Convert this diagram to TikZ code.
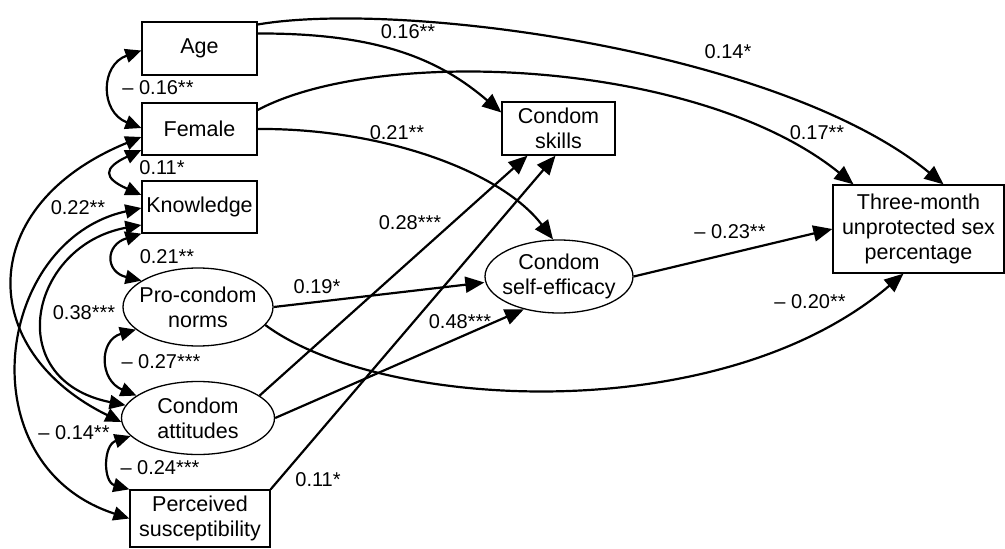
\documentclass[tikz,border=0pt]{standalone}
\usepackage{fontspec}
\setmainfont{Liberation Sans}
\usetikzlibrary{shapes.geometric,arrows.meta}
\begin{document}
\begin{tikzpicture}[x=1pt,y=-1pt,
  box/.style={draw,line width=1.3pt,rectangle,inner sep=1pt,align=center,font=\fontsize{21.5}{25}\selectfont},
  ell/.style={draw,line width=1.3pt,ellipse,inner xsep=-12pt,inner ysep=0pt,align=center,font=\fontsize{21.5}{25}\selectfont},
  arr/.style={line width=2.2pt,-{Triangle[length=19pt,width=16pt]}},
  cov/.style={line width=2.2pt,{Triangle[length=16pt,width=14pt]}-{Triangle[length=16pt,width=14pt]}},
  lab/.style={font=\fontsize{20}{24}\selectfont,inner sep=0pt}
]
\useasboundingbox (0,0) rectangle (1005,549);

% nodes
\node[box,minimum width=115pt,minimum height=53pt] (age) at (199.5,48.5) {Age};
\node[box,minimum width=115pt,minimum height=52pt] (fem) at (199.5,129) {Female};
\node[box,minimum width=115pt,minimum height=52pt] (know) at (199.5,207) {Knowledge};
\node[ell,minimum width=150pt,minimum height=78pt] (norms) at (198,307) {Pro-condom\\norms};
\node[ell,minimum width=153pt,minimum height=73pt] (att) at (198,418) {Condom\\attitudes};
\node[box,minimum width=140pt,minimum height=57pt] (perc) at (200,518.5) {Perceived\\susceptibility};
\node[box,minimum width=113pt,minimum height=53pt] (skills) at (558.5,128.5) {Condom\\skills};
\node[ell,minimum width=148pt,minimum height=73pt] (eff) at (559,276.5) {Condom\\self-efficacy};
\node[box,minimum width=171pt,minimum height=88pt] (three) at (918.5,229) {Three-month\\unprotected sex\\percentage};

% directed paths
\draw[arr] ([yshift=24pt]age.east) .. controls (400,0) and (780,50) .. ([xshift=25pt]three.north);
\draw[arr] ([yshift=15pt]age.east) .. controls (380,33) and (440,60) .. ([yshift=16pt]skills.west);
\draw[arr] ([yshift=19pt]fem.east) .. controls (380,45) and (700,60) .. ([xshift=-65pt]three.north);
\draw[arr] (fem.east) .. controls (380,128) and (500,170) .. ([xshift=-6pt]eff.north);
\draw[arr] (norms.east) -- ([yshift=-6pt]eff.west);
\draw[arr] (norms.-15) .. controls (380,410) and (720,430) .. ([xshift=-15pt]three.south);
\draw[arr] (att.20) -- ([xshift=-31pt]skills.south);
\draw[arr] (perc.north east) -- ([xshift=-3pt]skills.south);
\draw[arr] (att.east) -- (eff.223);
\draw[arr] (eff.east) -- (three.west);

% covariances
\draw[cov] ([yshift=-2pt]age.west) .. controls (100,65) and (100,112) .. ([yshift=1pt]fem.west);
\draw[cov] ([yshift=-21pt]fem.west) .. controls (103,168) and (103,178) .. ([yshift=12pt]know.west);
\draw[cov] (know.south west) .. controls (105,245) and (105,272) .. (norms.155);
\draw[cov] (norms.200) .. controls (99,340) and (99,380) .. (att.160);
\draw[cov] (att.195) .. controls (103,445) and (103,482) .. (perc.north west);
\draw[cov] ([yshift=-8pt]fem.west) .. controls (-25,205) and (-25,350) .. (att.183);
\draw[cov] ([yshift=-1pt]know.west) .. controls (-5,240) and (-35,465) .. (perc.west);
\draw[cov] ([yshift=-18pt]know.west) .. controls (30,245) and (0,380) .. (att.170);

% labels
\node[lab] (l1) at (158,88) {– 0.16**};
\node[lab] (l2) at (162,168) {0.11*};
\node[lab] (l3) at (167,257) {0.21**};
\node[lab] (l4) at (161,362) {– 0.27***};
\node[lab] (l5) at (160,468) {– 0.24***};
\node[lab] (l6) at (78,208) {0.22**};
\node[lab] (l7) at (84,313) {0.38***};
\node[lab] (l8) at (74,433) {– 0.14**};
\node[lab] (l9) at (408,32) {0.16**};
\node[lab] (l10) at (728,52) {0.14*};
\node[lab] (l11) at (397,133) {0.21**};
\node[lab] (l12) at (817,133) {0.17**};
\node[lab] (l13) at (410,223) {0.28***};
\node[lab] (l14) at (730,232) {– 0.23**};
\node[lab] (l15) at (317,287) {0.19*};
\node[lab] (l16) at (460,322) {0.48***};
\node[lab] (l17) at (810,302) {– 0.20**};
\node[lab] (l18) at (318,480) {0.11*};
\end{tikzpicture}
\end{document}
